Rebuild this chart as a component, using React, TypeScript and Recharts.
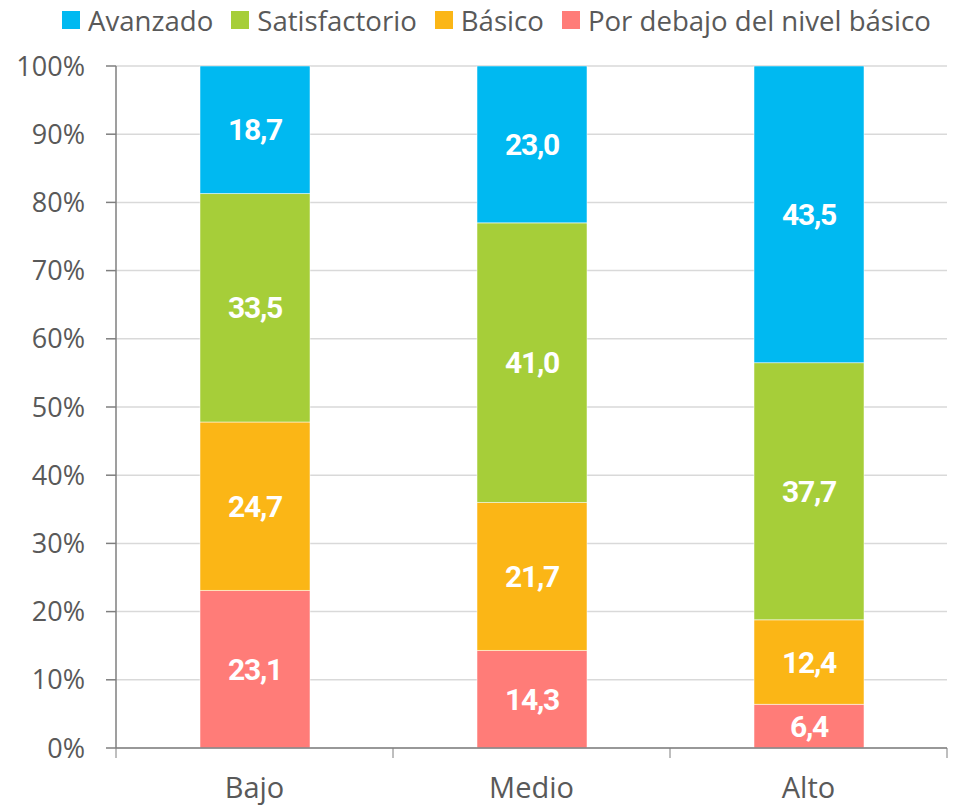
import React from 'react';
import { BarChart, Bar, XAxis, YAxis, CartesianGrid, Legend, LabelList } from 'recharts';

const categories = ['Bajo', 'Medio', 'Alto'];
const porDebajo = [23.1, 14.3, 6.4];
const basico = [24.7, 21.7, 12.4];
const satisfactorio = [33.5, 41.0, 37.7];
const avanzado = [18.7, 23.0, 43.5];
const yTicks = [0, 10, 20, 30, 40, 50, 60, 70, 80, 90, 100];

const series = [
  { key: 'porDebajo', name: 'Por debajo del nivel básico', color: '#FF7C78' },
  { key: 'basico', name: 'Básico', color: '#FBB616' },
  { key: 'satisfactorio', name: 'Satisfactorio', color: '#A6CE39' },
  { key: 'avanzado', name: 'Avanzado', color: '#00B9F1' },
];

const data = categories.map((c, i) => ({
  name: c,
  porDebajo: porDebajo[i],
  basico: basico[i],
  satisfactorio: satisfactorio[i],
  avanzado: avanzado[i],
}));

const FONT = '"Open Sans", sans-serif';
const fmt = (v: any) => Number(v).toFixed(1).replace('.', ',');

const LegendContent = () => {
  const items = [...series].reverse();
  return (
    <div style={{ display: 'flex', justifyContent: 'flex-start', paddingLeft: 62, fontFamily: FONT, fontSize: 27.6, color: '#595959', lineHeight: '40px' }}>
      {items.map((s) => (
        <div key={s.key} style={{ display: 'flex', alignItems: 'center', marginRight: 18 }}>
          <span style={{ display: 'inline-block', width: 18, height: 18, background: s.color, marginRight: 8 }} />
          <span>{s.name}</span>
        </div>
      ))}
    </div>
  );
};

const XTick = (props: any) => {
  const { x, y, payload, width } = props;
  const w = typeof width === 'number' ? width : 831;
  const half = w / categories.length / 2;
  return (
    <g>
      <line x1={x - half} x2={x - half} y1={y} y2={y + 10} stroke="#7f7f7f" strokeWidth={1} />
      {payload.index === categories.length - 1 && (
        <line x1={x + half} x2={x + half} y1={y} y2={y + 10} stroke="#7f7f7f" strokeWidth={1} />
      )}
      <text x={x} y={y + 50} textAnchor="middle" fill="#595959" fontSize={29} fontFamily={FONT}>
        {payload.value}
      </text>
    </g>
  );
};

export default function App() {
  return (
    <div style={{ position: 'absolute', left: 0, top: 0 }}>
      <BarChart width={954} height={805} data={data} margin={{ top: 0, right: 7, bottom: 0, left: 0 }} barSize={110}>
        <Legend verticalAlign="top" height={66} content={<LegendContent />} wrapperStyle={{ top: 0, left: 0, width: 954 }} />
        <CartesianGrid vertical={false} stroke="#d9d9d9" strokeWidth={1.5} />
        <XAxis
          dataKey="name"
          height={57}
          tickSize={0}
          tickMargin={0}
          axisLine={{ stroke: '#7f7f7f', strokeWidth: 1.5 }}
          tick={<XTick />}
          interval={0}
        />
        <YAxis
          width={116}
          domain={[0, 100]}
          ticks={yTicks}
          tickFormatter={(v) => `${v}%`}
          tickSize={10}
          tickMargin={21}
          axisLine={{ stroke: '#7f7f7f', strokeWidth: 1.5 }}
          tickLine={{ stroke: '#7f7f7f', strokeWidth: 1.5 }}
          tick={{ fill: '#595959', fontSize: 27, fontFamily: FONT }}
          allowDataOverflow
        />
        {series.map((s) => (
          <Bar key={s.key} dataKey={s.key} name={s.name} stackId="a" fill={s.color} stroke="#ffffff" strokeOpacity={0.5} strokeWidth={1} isAnimationActive={false}>
            <LabelList
              dataKey={s.key}
              position="center"
              formatter={fmt}
              fill="#ffffff"
              fontSize={30}
              fontWeight="bold"
              fontFamily='"Roboto", sans-serif'
              letterSpacing={-1.2}
            />
          </Bar>
        ))}
      </BarChart>
    </div>
  );
}
